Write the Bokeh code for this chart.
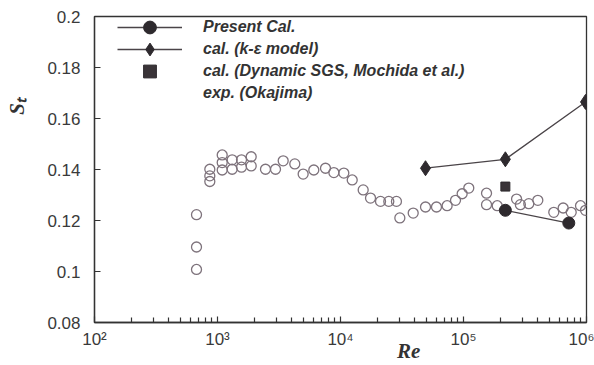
from bokeh.plotting import figure
from bokeh.models import FixedTicker, Legend, LegendItem
from bokeh.embed import file_html
from bokeh.resources import INLINE

# ---------------- data ----------------
exp_re = [675, 675, 675, 866, 866, 866, 1092, 1092, 1092, 1316, 1316, 1567, 1567,
          1879, 1879, 2455, 2962, 3420, 4250, 4970, 6066, 7550, 8830, 10640, 12450,
          15290, 17540, 21150, 24700, 28500, 30370, 39000, 49100, 60300, 73600,
          86100, 97500, 110400, 153900, 153900, 188000, 270000, 290000, 339500,
          402000, 542000, 646000, 751000, 894000, 982000]
exp_st = [0.1223, 0.1096, 0.1008, 0.1401, 0.1375, 0.1353, 0.1457, 0.1427, 0.1398,
          0.1438, 0.1401, 0.1438, 0.1409, 0.1450, 0.1414, 0.1401, 0.1401, 0.1434,
          0.1422, 0.1382, 0.1398, 0.1405, 0.1388, 0.1386, 0.1359, 0.1320, 0.1288,
          0.1275, 0.1275, 0.1275, 0.1210, 0.1229, 0.1253, 0.1253, 0.1258, 0.1279,
          0.1305, 0.1327, 0.1307, 0.1262, 0.1258, 0.1284, 0.1262, 0.1266, 0.1279,
          0.1232, 0.1249, 0.1232, 0.1258, 0.1240]

present_re = [219000, 718000]
present_st = [0.1240, 0.1190]

ke_re = [49100, 219000, 982000]
ke_st = [0.1405, 0.1440, 0.1665]

sgs_re = [219000]
sgs_st = [0.1333]

legend_labels = ["Present Cal.", "cal. (k-\u03b5 model)",
                 "cal. (Dynamic SGS, Mochida et al.)", "exp. (Okajima)"]

y_ticks = [0.08, 0.10, 0.12, 0.14, 0.16, 0.18, 0.20]
y_tick_labels = ["0.08", "0.1", "0.12", "0.14", "0.16", "0.18", "0.2"]
x_ticks = [1e2, 1e3, 1e4, 1e5, 1e6]
x_tick_labels = ["10\u00b2", "10\u00b3", "10\u2074", "10\u2075", "10\u2076"]
x_label = "Re"
y_label = "S\u209c"

# ---------------- figure ----------------
AX = "#333333"
FONT = "Liberation Sans"
NBSP = "\u00a0"

p = figure(width=594, height=365, x_axis_type="log",
           x_range=(100, 1e6), y_range=(0.08, 0.2),
           output_backend="svg", toolbar_location=None, title=None,
           min_border_left=94, min_border_right=8, min_border_top=16,
           min_border_bottom=42)
p.xgrid.visible = False
p.ygrid.visible = False
p.outline_line_color = AX
p.outline_line_width = 1.3
p.background_fill_color = "white"
p.border_fill_color = "white"

minor = [m * d for d in [1e2, 1e3, 1e4, 1e5] for m in range(2, 10)]
p.xaxis.ticker = FixedTicker(ticks=x_ticks, minor_ticks=minor)
p.xaxis.major_label_overrides = {t: l for t, l in zip(x_ticks, x_tick_labels)}
p.yaxis.ticker = FixedTicker(ticks=y_ticks, minor_ticks=[])
p.yaxis.major_label_overrides = {t: l for t, l in zip(y_ticks, y_tick_labels)}

for ax in (p.xaxis[0], p.yaxis[0]):
    ax.axis_line_color = AX
    ax.axis_line_width = 1.3
    ax.major_tick_line_color = AX
    ax.minor_tick_line_color = AX
    ax.major_tick_line_width = 1.2
    ax.minor_tick_line_width = 1.2
    ax.major_tick_out = 0
    ax.minor_tick_out = 0
    ax.major_label_text_font = FONT
    ax.major_label_text_font_size = "17px"
    ax.major_label_text_color = "#3a3a3a"
    ax.axis_label_text_font = "Liberation Serif"
    ax.axis_label_text_font_style = "bold italic"
    ax.axis_label_text_font_size = "21px"
    ax.axis_label_text_color = "#333333"

p.xaxis.major_tick_in = 6
p.xaxis.minor_tick_in = 5
p.xaxis.major_label_standoff = 7
p.yaxis.major_tick_in = 6
p.yaxis.minor_tick_in = 0
p.yaxis.major_label_standoff = 14

# axis titles, shifted off-centre as in the reference
p.xaxis.axis_label = NBSP * 26 + x_label
p.xaxis.axis_label_standoff = -13
p.yaxis.axis_label = NBSP * 24 + y_label
p.yaxis.axis_label_standoff = 15

# ---------------- data glyphs ----------------
GREY = "#7e737c"
DARK = "#2e2a2e"

r_exp = p.scatter(exp_re, exp_st, marker="circle", size=10, fill_color=None,
                  line_color=GREY, line_width=1.3)

r_ke_line = p.line(ke_re, ke_st, line_color="#4a4448", line_width=1.3)
r_ke = p.scatter(ke_re, ke_st, marker="diamond", size=15, fill_color=DARK,
                 line_color=DARK)

r_pr_line = p.line(present_re, present_st, line_color="#4a4448", line_width=1.3)
r_pr = p.scatter(present_re, present_st, marker="circle", size=12,
                 fill_color=DARK, line_color=DARK)

r_sgs = p.scatter(sgs_re, sgs_st, marker="square", size=9, fill_color="#3a3438",
                  line_color=DARK)

# invisible renderer for the legend entry without a marker
r_dummy = p.scatter(x=[], y=[], marker="circle", size=1, fill_alpha=0, line_alpha=0)

# one legend per row so that rows can sit closer than the glyph height
rows = [[r_pr_line, r_pr], [r_ke_line, r_ke], [r_sgs], [r_dummy]]
row_offsets = [279, 257, 235, 213]
for lab, rends, yoff in zip(legend_labels, rows, row_offsets):
    lg = Legend(items=[LegendItem(label=lab, renderers=rends)], location=(23, yoff))
    lg.glyph_width = 65
    lg.glyph_height = 32
    lg.label_height = 30
    lg.padding = 0
    lg.margin = 0
    lg.label_standoff = 21
    lg.background_fill_alpha = 0
    lg.border_line_alpha = 0
    lg.label_text_font = FONT
    lg.label_text_font_style = "bold italic"
    lg.label_text_font_size = "16px"
    lg.label_text_color = "#333333"
    p.add_layout(lg, "center")

open("out.html", "w").write(file_html(p, INLINE))
